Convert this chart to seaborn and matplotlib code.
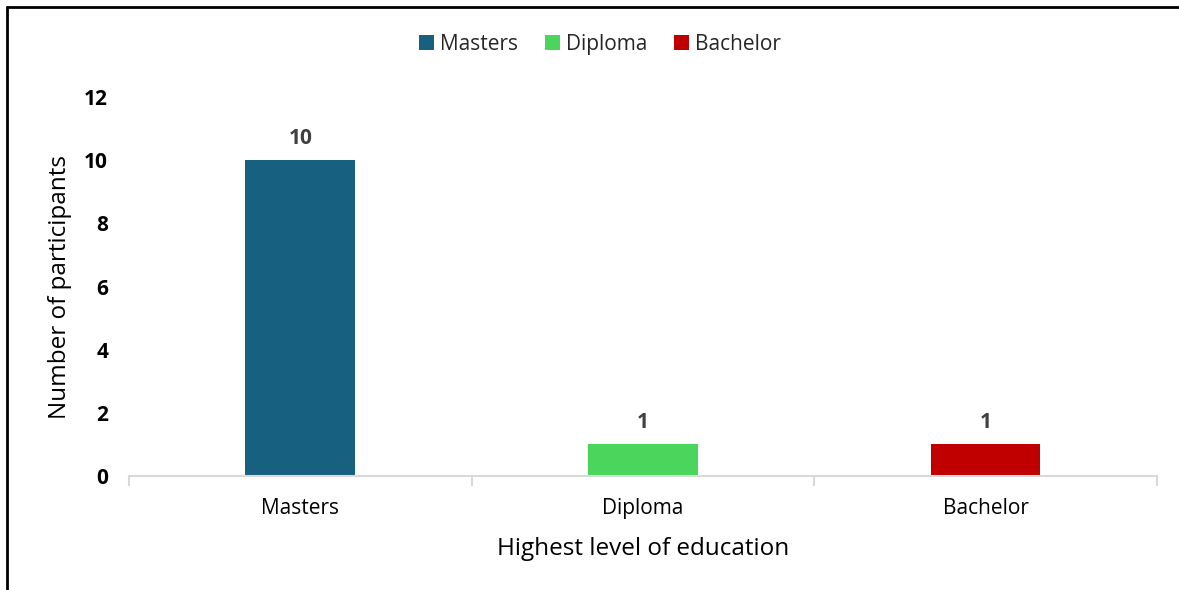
import seaborn as sns
import matplotlib.pyplot as plt
import pandas as pd
from matplotlib.lines import Line2D

# Data
education = ['Masters', 'Diploma', 'Bachelor']
participants = [10, 1, 1]
bar_colors = ['#17607F', '#4BD55C', '#C00000']

df = pd.DataFrame({'education': education, 'participants': participants})

sns.set_style("white")
plt.rcParams['font.family'] = ['Open Sans', 'DejaVu Sans']

fig = plt.figure(figsize=(11.79, 5.90), dpi=100)
ax = fig.add_axes([0.1094, 0.1932, 0.8719, 0.6424])

sns.barplot(data=df, x='education', y='participants', hue='education',
            palette=dict(zip(education, bar_colors)), order=education,
            width=0.32, saturation=1, linewidth=0, legend=True, ax=ax)

# bar labels
for c in ax.containers:
    ax.bar_label(c, fmt='%d', padding=8, fontsize=15, fontweight='bold', color='#404040')

ax.set_ylim(0, 12)
ax.set_yticks(range(0, 13, 2))
ax.set_xlim(-0.5, 2.5)
ax.tick_params(axis='y', length=0, labelsize=15, pad=15, labelcolor='black')
for lab in ax.get_yticklabels():
    lab.set_fontweight('bold')
ax.tick_params(axis='x', which='major', length=0, labelsize=15, pad=16, labelcolor='black')
ax.set_xticks([-0.5, 0.5, 1.5, 2.5], minor=True)
ax.tick_params(axis='x', which='minor', bottom=True, length=7, width=1.5, color='#D9D9D9')

for s in ['top', 'right', 'left']:
    ax.spines[s].set_visible(False)
ax.spines['bottom'].set_color('#D9D9D9')
ax.spines['bottom'].set_linewidth(1.5)

ax.set_xlabel('Highest level of education', fontsize=17.5, labelpad=13, color='black')
ax.set_ylabel('Number of participants', fontsize=17.5, labelpad=9, color='black')

# legend at top
handles, labels = ax.get_legend_handles_labels()
ax.get_legend().remove()
fig.legend(handles, labels, loc='center', bbox_to_anchor=(0.509, 0.925), ncol=3,
           frameon=False, fontsize=15, handlelength=0.7, handleheight=0.7,
           handletextpad=0.3, columnspacing=1.3)

# border lines (left and top)
fig.add_artist(Line2D([0.0059, 0.0059], [0, 0.988], color='black', lw=2, transform=fig.transFigure))
fig.add_artist(Line2D([0.0059, 1.0], [0.988, 0.988], color='black', lw=2, transform=fig.transFigure))

fig.savefig('out.png', dpi=100)
